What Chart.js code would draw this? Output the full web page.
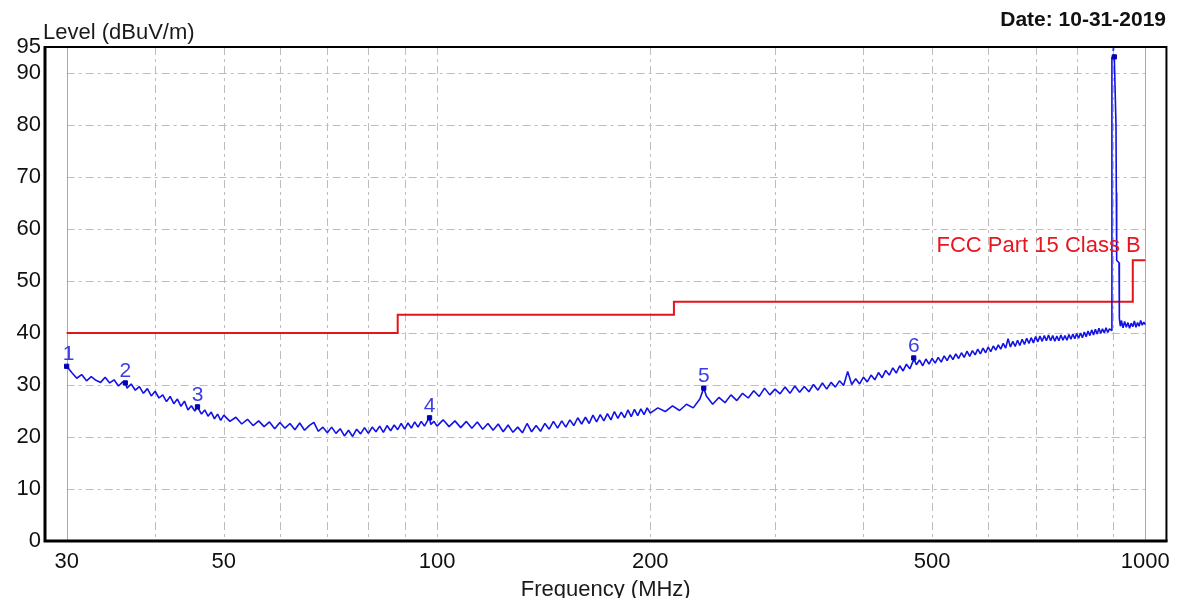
<!DOCTYPE html>
<html><head><meta charset="utf-8">
<script src="https://cdn.jsdelivr.net/npm/chart.js@4.4.1/dist/chart.umd.min.js"></script>
<style>html,body{margin:0;padding:0;background:#fff;}canvas{display:block;}</style>
</head><body>
<canvas id="c" width="1178" height="598"></canvas>
<script>
// ---- Data ----
const freqA  = [30,30.5,31,31.5,32,32.5,33,33.5,34,34.5,35,35.5,36,36.3,36.5,37,37.5,38,38.5,39,39.5,40,40.5,41,41.5,42,42.5,43,43.5,44,44.5,45,45.5,45.9,46.5,47,47.5,48,48.5,49,49.5];
const levelA = [33.6,32.4,31.3,32.0,30.8,31.6,30.9,30.5,31.5,30.4,31.0,29.8,30.6,30.4,29.4,30.2,29.0,29.7,28.4,29.3,27.9,28.8,27.5,28.1,26.8,27.8,26.4,27.3,25.9,26.9,25.2,26.0,25.0,25.8,24.4,25.2,24.0,24.8,23.5,24.4,23.2];

const freqB  = [50,51,52,53,54,55,56,57,58,59,60,61,62,63,64,65,66,67,68,69,70,71,72,73,74,75,76,77,78,79,80,81,82,83,84,85,86,87,88,89,90,91,92,93,94,95,96,97,97.6,98,99];
const levelB = [24.2,23.0,23.8,22.5,23.4,22.2,23.1,22.0,22.9,21.6,22.8,21.7,22.6,21.4,22.7,21.3,22.2,22.8,21.1,21.9,20.8,21.9,20.7,21.6,20.2,21.3,20.1,21.5,20.6,21.8,20.7,21.9,21.0,22.1,20.9,22.2,21.2,22.3,21.4,22.6,21.5,22.7,21.7,22.9,21.9,23.0,22.1,23.2,23.7,22.4,23.0];

const freqC  = [100,102,104,106,108,110,112,114,116,118,120,122,124,126,128,130,132,134,136,138,140,142,144,146,148,150,152,154,156,158,160,162,164,166,168,170,172,174,176,178,180,182,184,186,188,190,192,194,196,198];
const levelC = [22.1,23.3,22.0,23.1,21.8,23.0,21.7,22.9,21.5,22.6,21.3,22.5,21.0,22.3,20.9,21.9,20.8,22.6,21.0,22.2,21.1,22.6,21.5,23.0,21.7,23.1,21.9,23.3,22.2,23.7,22.5,23.8,22.6,24.2,22.9,24.3,23.1,24.5,23.3,24.9,23.6,24.8,23.7,25.2,23.9,25.3,24.1,25.4,24.3,25.6];

const freqD  = [200,205,210,215,220,225,230,235,238,240,245,250,255,260,265,270,275,280,285,290,295,300,305,310,315,320,325,330,335,340,345,350,355,360,365,370,375,380,385,390,395,400,405,410,415,420,425,430,435,440,445,450,455,460,465,470,471,475,480,485,490,495];
const levelD = [24.6,25.6,24.9,26.0,25.1,26.3,25.6,27.3,29.4,27.9,26.3,27.6,26.6,28.1,27.0,28.4,27.5,28.9,27.8,29.4,28.1,29.2,28.3,29.6,28.4,29.8,28.6,29.7,28.7,30.1,29.0,30.4,29.2,30.5,29.6,30.8,29.9,32.6,30.1,31.2,30.2,31.5,30.6,31.9,31.0,32.4,31.4,32.8,31.9,33.3,32.3,33.7,32.7,34.0,33.1,34.6,35.2,33.9,34.8,33.7,35.0,34.0];

const freqE  = [500,505,510,515,520,525,530,535,540,545,550,555,560,565,570,575,580,585,590,595,600,605,610,615,620,625,630,635,640,645,650,655,660,665,670,675,680,685,690,695,700,705,710,715,720,725,730,735,740,745,750,755,760,765,770,775,780,785,790,795,800,805,810,815,820,825,830,835,840,845,850,855,860,865,870,875,880,885,890];
const levelE = [35.1,34.2,35.3,34.4,35.6,34.7,35.8,34.9,36.0,35.1,36.2,35.3,36.5,35.5,36.6,35.8,36.9,36.0,37.1,36.2,37.3,36.4,37.5,36.7,37.7,36.9,38.0,37.1,38.9,37.3,38.4,37.4,38.6,37.6,38.8,37.8,39.0,38.0,39.1,38.1,39.3,38.3,39.4,38.4,39.5,38.5,39.6,38.5,39.5,38.4,39.4,38.5,39.6,38.6,39.5,38.6,39.7,38.8,39.8,38.9,39.9,39.0,40.0,39.1,40.2,39.3,40.4,39.5,40.6,39.6,40.7,39.8,40.9,39.9,40.8,40.0,41.0,40.1,40.8];

const freqF  = [896,897,904,909,910,911,918,919,922,925,930,935,940,945,950,955,960,965,970,975,980,985,990,995,1000];
const levelF = [40.5,93.0,93.1,80.0,67.0,54.0,53.5,42.8,41.3,42.4,41.0,42.2,41.1,42.0,40.9,41.9,41.2,42.3,41.1,42.0,41.3,42.4,41.5,42.1,41.6];

const limitFreq  = [30,88,88,216,216,960,960,1000];
const limitLevel = [40,40,43.5,43.5,46,46,54,54];

const markerFreq  = [30,36.3,45.9,97.6,238,471,904];
const markerLevel = [33.6,30.4,25.8,23.7,29.4,35.2,93.1];
const markerLabel = ['1','2','3','4','5','6','7'];

const xGridValues = [30,40,50,60,70,80,90,100,200,300,400,500,600,700,800,900,1000];
const xTickLabels = [30,50,100,200,500,1000];
const yTickValues = [0,10,20,30,40,50,60,70,80,90,95];
const yGridValues = [10,20,30,40,50,60,70,80,90];

const limitName = 'FCC Part 15 Class B';
const yTitle = 'Level (dBuV/m)';
const xTitle = 'Frequency (MHz)';
const dateText = 'Date: 10-31-2019';

// ---- build ----
const FONT = '"Liberation Sans", Arial, Helvetica, sans-serif';
const traceFreq = [].concat(freqA, freqB, freqC, freqD, freqE, freqF);
const traceLevel = [].concat(levelA, levelB, levelC, levelD, levelE, levelF);
const pts = (fs, ls) => fs.map((f, i) => ({x: f, y: ls[i]}));

const overlay = {
  id: 'overlay',
  beforeDraw(chart) {
    const ctx = chart.ctx;
    ctx.save(); ctx.fillStyle = '#fff'; ctx.fillRect(0, 0, chart.width, chart.height); ctx.restore();
  },
  beforeDatasetsDraw(chart) {
    const {ctx, chartArea: a, scales: {x, y}} = chart;
    ctx.save();
    ctx.lineWidth = 1;
    const seg = (x1, y1, x2, y2) => { ctx.beginPath(); ctx.moveTo(x1, y1); ctx.lineTo(x2, y2); ctx.stroke(); };
    ctx.strokeStyle = '#bdbdbd';
    ctx.setLineDash([8, 4, 3, 4]);
    for (const v of xGridValues) {
      if (v === 30 || v === 1000) continue;
      const px = Math.round(x.getPixelForValue(v)) + 0.5;
      seg(px, a.top, px, a.bottom);
    }
    const x0 = x.getPixelForValue(30), x1 = x.getPixelForValue(1000);
    for (const v of yGridValues) {
      const py = Math.round(y.getPixelForValue(v)) + 0.5;
      seg(x0, py, x1, py);
    }
    ctx.setLineDash([]);
    ctx.strokeStyle = '#a9a9a9';
    for (const v of [30, 1000]) {
      const px = Math.round(x.getPixelForValue(v)) + 0.5;
      seg(px, a.top, px, a.bottom);
    }
    ctx.restore();
  },
  afterDatasetsDraw(chart) {
    const {ctx, chartArea: a, scales: {x, y}} = chart;
    ctx.save();
    ctx.beginPath(); ctx.rect(a.left, a.top, a.right - a.left, a.bottom - a.top); ctx.clip();
    ctx.font = '21px ' + FONT;
    ctx.fillStyle = '#3c3ce6';
    ctx.textAlign = 'center';
    ctx.textBaseline = 'alphabetic';
    markerFreq.forEach((f, i) => {
      ctx.fillText(markerLabel[i], x.getPixelForValue(f) + (i === 0 ? 2 : 0), y.getPixelForValue(markerLevel[i]) - 6);
    });
    ctx.restore();
    // limit name
    ctx.save();
    ctx.font = '22px ' + FONT;
    ctx.fillStyle = '#e8141e';
    ctx.textAlign = 'right';
    ctx.fillText(limitName, x.getPixelForValue(985), y.getPixelForValue(55.5));
    ctx.restore();
    // frame
    ctx.save();
    ctx.strokeStyle = '#000';
    ctx.lineWidth = 2;
    ctx.strokeRect(a.left, a.top, a.right - a.left, a.bottom - a.top);
    ctx.lineWidth = 3;
    ctx.beginPath(); ctx.moveTo(a.left, a.top - 1); ctx.lineTo(a.left, a.bottom); ctx.lineTo(a.right + 1, a.bottom); ctx.stroke();
    ctx.restore();
  },
  afterDraw(chart) {
    const {ctx, chartArea: a} = chart;
    ctx.save();
    ctx.fillStyle = '#1a1a1a';
    ctx.font = '22px ' + FONT;
    ctx.textAlign = 'left';
    ctx.fillText(yTitle, a.left - 2, a.top - 8);
    ctx.textAlign = 'center';
    ctx.fillText(xTitle, (a.left + a.right) / 2, 596);
    ctx.font = 'bold 21px ' + FONT;
    ctx.textAlign = 'right';
    ctx.fillStyle = '#111';
    ctx.fillText(dateText, 1166, 26);
    ctx.restore();
  }
};

new Chart(document.getElementById('c'), {
  type: 'scatter',
  data: {
    datasets: [
      { label: 'Markers', data: pts(markerFreq, markerLevel), showLine: false, pointStyle: 'rect', pointRadius: 3, pointBackgroundColor: '#0000b4', pointBorderColor: '#0000b4', order: 0 },
      { label: 'Level', data: pts(traceFreq, traceLevel), showLine: true, borderColor: '#1212e6', borderWidth: 1.6, borderJoinStyle: 'bevel', pointRadius: 0, tension: 0, order: 1 },
      { label: limitName, data: pts(limitFreq, limitLevel), showLine: true, borderColor: '#e4141b', borderWidth: 2, pointRadius: 0, tension: 0, order: 2 }
    ]
  },
  options: {
    responsive: false, animation: false, devicePixelRatio: 1,
    layout: { padding: { top: 47, right: 10, left: 0, bottom: 0 } },
    plugins: { legend: { display: false }, tooltip: { enabled: false }, title: { display: false } },
    scales: {
      x: {
        type: 'logarithmic', min: 27.96, max: 1071,
        grid: { display: false, drawTicks: false }, border: { display: false },
        afterBuildTicks: s => { s.ticks = xGridValues.map(v => ({ value: v })); },
        afterFit: s => { s.height = 57; },
        ticks: { autoSkip: false, maxRotation: 0, minRotation: 0, padding: 8, color: '#111',
          font: { family: FONT, size: 22 },
          callback: v => xTickLabels.includes(v) ? String(v) : '' }
      },
      y: {
        min: 0, max: 95,
        grid: { display: false, drawTicks: false }, border: { display: false },
        afterBuildTicks: s => { s.ticks = yTickValues.map(v => ({ value: v })); },
        afterFit: s => { s.width = 45; },
        ticks: { padding: 4, color: '#111', font: { family: FONT, size: 22 }, callback: v => String(v) }
      }
    }
  },
  plugins: [overlay]
});
</script>
</body></html>
